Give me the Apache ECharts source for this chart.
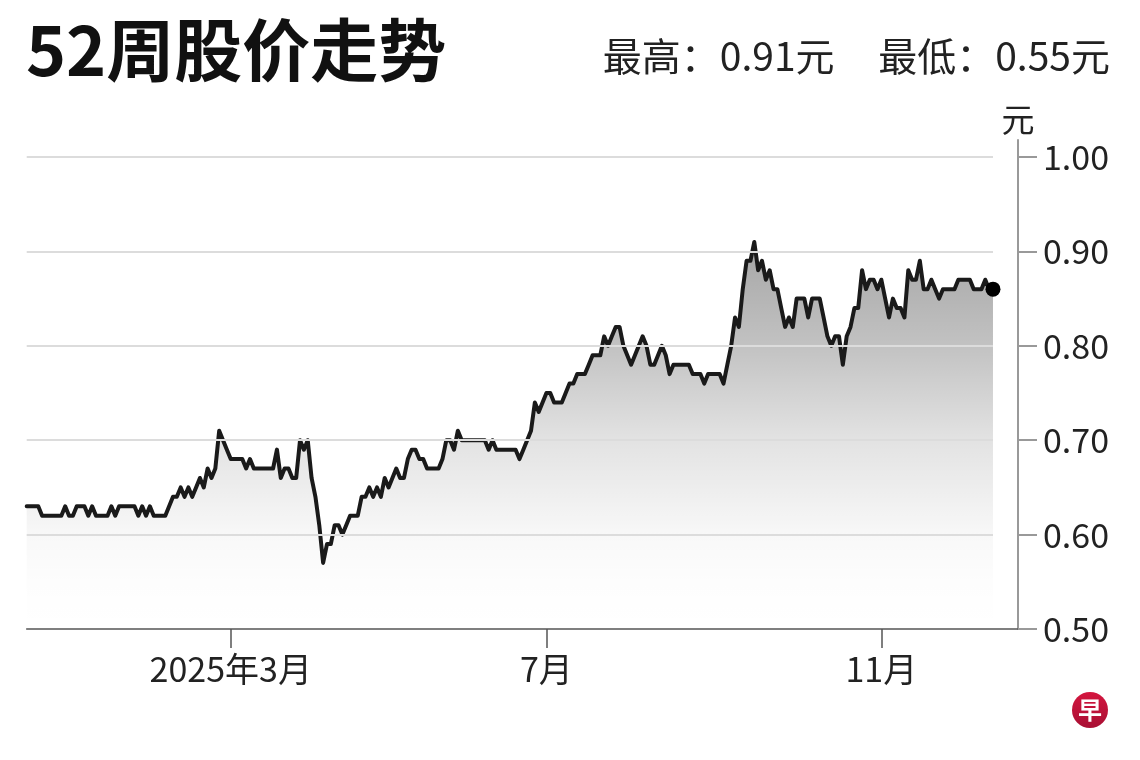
<!DOCTYPE html>
<html>
<head>
<meta charset="utf-8">
<title>52周股价走势</title>
<script src="https://cdn.jsdelivr.net/npm/echarts@6.0.0/dist/echarts.min.js"></script>
<style>
    html, body { margin: 0; padding: 0; background: #fff; }
    #stockLine { width: 1140px; height: 760px; }
</style>
</head>
<body>
<div id="stockLine"></div>
<script>
// 每个交易日收盘价（元）
var prices = [
    0.63, 0.63, 0.63, 0.63, 0.62, 0.62, 0.62, 0.62, 0.62, 0.62,
    0.63, 0.62, 0.62, 0.63, 0.63, 0.63, 0.62, 0.63, 0.62, 0.62,
    0.62, 0.62, 0.63, 0.62, 0.63, 0.63, 0.63, 0.63, 0.63, 0.62,
    0.63, 0.62, 0.63, 0.62, 0.62, 0.62, 0.62, 0.63, 0.64, 0.64,
    0.65, 0.64, 0.65, 0.64, 0.65, 0.66, 0.65, 0.67, 0.66, 0.67,
    0.71, 0.70, 0.69, 0.68, 0.68, 0.68, 0.68, 0.67, 0.68, 0.67,
    0.67, 0.67, 0.67, 0.67, 0.67, 0.69, 0.66, 0.67, 0.67, 0.66,
    0.66, 0.70, 0.69, 0.70, 0.66, 0.64, 0.61, 0.57, 0.59, 0.59,
    0.61, 0.61, 0.60, 0.61, 0.62, 0.62, 0.62, 0.64, 0.64, 0.65,
    0.64, 0.65, 0.64, 0.66, 0.65, 0.66, 0.67, 0.66, 0.66, 0.68,
    0.69, 0.69, 0.68, 0.68, 0.67, 0.67, 0.67, 0.67, 0.68, 0.70,
    0.70, 0.69, 0.71, 0.70, 0.70, 0.70, 0.70, 0.70, 0.70, 0.70,
    0.69, 0.70, 0.69, 0.69, 0.69, 0.69, 0.69, 0.69, 0.68, 0.69,
    0.70, 0.71, 0.74, 0.73, 0.74, 0.75, 0.75, 0.74, 0.74, 0.74,
    0.75, 0.76, 0.76, 0.77, 0.77, 0.77, 0.78, 0.79, 0.79, 0.79,
    0.81, 0.80, 0.81, 0.82, 0.82, 0.80, 0.79, 0.78, 0.79, 0.80,
    0.81, 0.80, 0.78, 0.78, 0.79, 0.80, 0.79, 0.77, 0.78, 0.78,
    0.78, 0.78, 0.78, 0.77, 0.77, 0.77, 0.76, 0.77, 0.77, 0.77,
    0.77, 0.76, 0.78, 0.80, 0.83, 0.82, 0.86, 0.89, 0.89, 0.91,
    0.88, 0.89, 0.87, 0.88, 0.86, 0.86, 0.84, 0.82, 0.83, 0.82,
    0.85, 0.85, 0.85, 0.83, 0.85, 0.85, 0.85, 0.83, 0.81, 0.80,
    0.81, 0.81, 0.78, 0.81, 0.82, 0.84, 0.84, 0.88, 0.86, 0.87,
    0.87, 0.86, 0.87, 0.85, 0.83, 0.85, 0.84, 0.84, 0.83, 0.88,
    0.87, 0.87, 0.89, 0.86, 0.86, 0.87, 0.86, 0.85, 0.86, 0.86,
    0.86, 0.86, 0.87, 0.87, 0.87, 0.87, 0.86, 0.86, 0.86, 0.87,
    0.86, 0.86
];
// 横轴刻度：所在交易日序号和文字
var xTickIndex = [53, 135, 222];
var xTickLabels = ['2025年3月', '7月', '11月'];
// 纵轴刻度
var yTicks = [0.50, 0.60, 0.70, 0.80, 0.90, 1.00];
var highPrice = 0.91;
var lowPrice = 0.55;

var fontName = '"Noto Sans CJK SC", "Noto Sans", sans-serif';
var lastIdx = prices.length - 1;

var seriesData = prices.map(function (v, i) {
    return [i, v];
});
// 网格线只画到最后一个数据点
var gridLines = yTicks.slice(1).map(function (t) {
    return [{coord: [0, t]}, {coord: [lastIdx, t]}];
});

var chart = echarts.init(document.getElementById('stockLine'));
var option = {
    backgroundColor: '#fff',
    animation: false,
    title: [{
        text: '52周股价走势',
        left: 21,
        top: 11,
        textStyle: {
            fontFamily: fontName,
            fontSize: 68,
            fontWeight: 'bold',
            color: '#111'
        }
    }, {
        text: '最高：' + highPrice.toFixed(2) + '元     最低：' + lowPrice.toFixed(2) + '元',
        right: 25,
        top: 32,
        textStyle: {
            fontFamily: fontName,
            fontSize: 39,
            fontWeight: 'normal',
            color: '#222'
        }
    }],
    grid: {
        left: 26.7,
        right: 122,
        top: 140,
        bottom: 131,
        containLabel: false
    },
    xAxis: {
        type: 'value',
        min: 0,
        max: 257.5,
        splitLine: {show: false},
        axisLine: {show: true, onZero: false, lineStyle: {color: '#555', width: 1.5}},
        axisTick: {
            show: true,
            customValues: xTickIndex,
            length: 19,
            lineStyle: {color: '#555', width: 1.5}
        },
        axisLabel: {
            customValues: xTickIndex,
            margin: 23,
            fontFamily: fontName,
            fontSize: 34,
            color: '#222',
            formatter: function (val) {
                var k = xTickIndex.indexOf(val);
                return k >= 0 ? xTickLabels[k] : '';
            }
        }
    },
    yAxis: {
        type: 'value',
        position: 'right',
        min: 0.5,
        max: 1.018,
        name: '元',
        nameLocation: 'end',
        nameGap: 4,
        nameTextStyle: {
            fontFamily: fontName,
            fontSize: 33,
            color: '#222'
        },
        splitLine: {show: false},
        axisLine: {show: true, onZero: false, lineStyle: {color: '#999', width: 2}},
        axisTick: {
            show: true,
            inside: false,
            customValues: yTicks,
            length: 19,
            lineStyle: {color: '#999', width: 2}
        },
        axisLabel: {
            customValues: yTicks,
            margin: 25,
            fontFamily: fontName,
            fontSize: 34,
            color: '#222',
            formatter: function (val) {
                return val.toFixed(2);
            }
        }
    },
    series: [{
        // 网格线，放在面积下面
        name: 'grid',
        type: 'line',
        data: seriesData,
        z: 1,
        silent: true,
        showSymbol: false,
        lineStyle: {opacity: 0},
        markLine: {
            silent: true,
            symbol: 'none',
            label: {show: false},
            lineStyle: {color: '#dcdcdc', width: 2, type: 'solid'},
            data: gridLines
        }
    }, {
        name: '股价',
        type: 'line',
        data: seriesData,
        z: 3,
        showSymbol: false,
        lineStyle: {color: '#1a1a1a', width: 4, join: 'round', cap: 'round'},
        areaStyle: {
            color: new echarts.graphic.LinearGradient(0, 0, 0, 1, [
                {offset: 0, color: 'rgba(0,0,0,0.50)'},
                {offset: 0.27, color: 'rgba(0,0,0,0.34)'},
                {offset: 0.51, color: 'rgba(0,0,0,0.16)'},
                {offset: 0.76, color: 'rgba(0,0,0,0.04)'},
                {offset: 0.88, color: 'rgba(0,0,0,0.01)'},
                {offset: 1, color: 'rgba(0,0,0,0)'}
            ])
        }
    }, {
        // 最后一个点
        name: 'last',
        type: 'scatter',
        z: 4,
        symbolSize: 15,
        itemStyle: {color: '#000', opacity: 1},
        data: [[lastIdx, prices[lastIdx]]]
    }],
    graphic: [{
        // 联合早报标志
        type: 'group',
        right: 32,
        bottom: 32,
        children: [{
            type: 'circle',
            shape: {cx: 18, cy: 18, r: 18},
            style: {
                fill: new echarts.graphic.LinearGradient(0, 0, 0, 1, [
                    {offset: 0, color: '#d4163f'},
                    {offset: 1, color: '#a80f33'}
                ])
            }
        }, {
            type: 'text',
            x: 18,
            y: 18,
            style: {
                text: '早',
                fill: '#fff',
                font: 'bold 24px "Noto Sans CJK SC"',
                align: 'center',
                verticalAlign: 'middle'
            }
        }]
    }]
};
chart.setOption(option, true);
</script>
</body>
</html>
